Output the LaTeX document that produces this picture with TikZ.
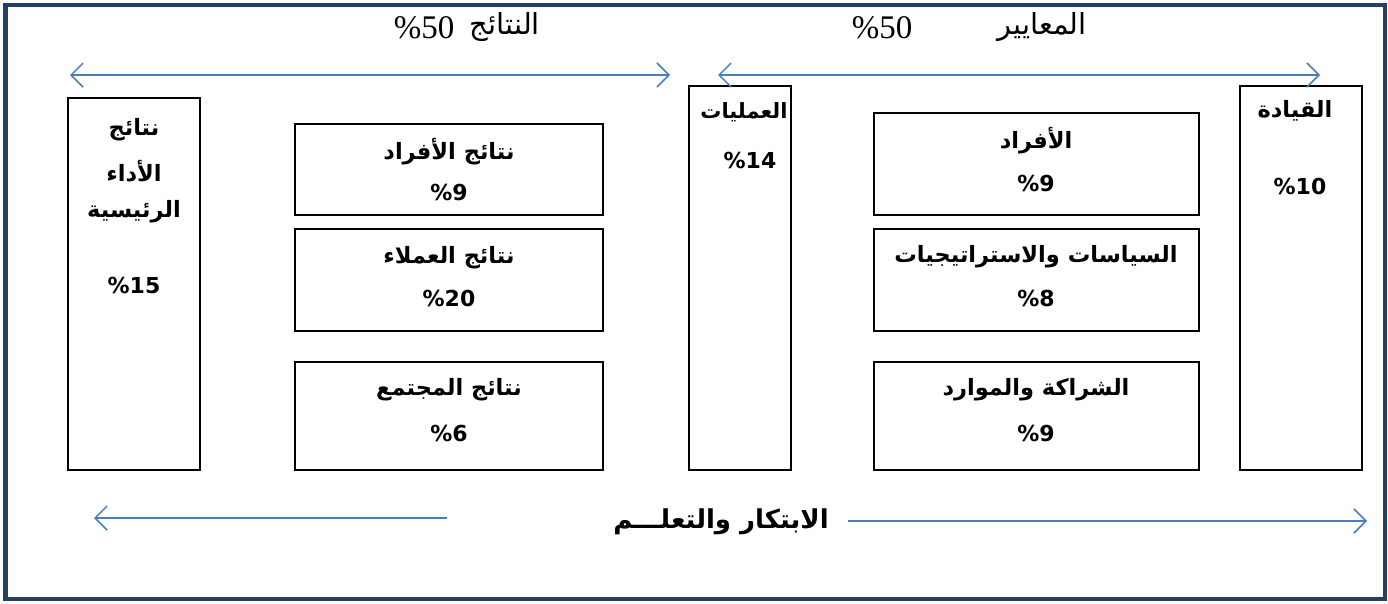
\documentclass[tikz,border=0pt]{standalone}
\usepackage{fontspec}
\usetikzlibrary{arrows.meta}
\TeXXeTstate=1
\newfontfamily\arabicfont[Script=Arabic]{DejaVu Sans}
\newfontfamily\latinbold{DejaVu Sans}
\setmainfont{Liberation Serif}
\newcommand\ARb[1]{{\arabicfont\bfseries\beginR #1\endR}}
\newcommand\ARn[1]{{\arabicfont\beginR #1\endR}}
\definecolor{framec}{HTML}{243F60}
\definecolor{arrowc}{HTML}{4A7EBB}
\tikzset{
  box/.style={draw=black, line width=1.2pt, inner sep=0pt},
  lbl/.style={inner sep=0pt, font=\arabicfont\bfseries\fontsize{22.5}{26}\selectfont, text=black},
  pct/.style={inner sep=0pt, font=\latinbold\bfseries\fontsize{22}{25}\selectfont, text=black},
  toplbl/.style={inner sep=0pt, font=\fontsize{33}{36}\selectfont, text=black},
  toparab/.style={inner sep=0pt, font=\arabicfont\fontsize{29}{33}\selectfont, text=black},
  conn/.style={draw=arrowc, line width=1.5pt},
  tip/.tip={Straight Barb[length=12pt,width=24pt,line width=1.5pt]}
}
\begin{document}
\begin{tikzpicture}[x=1pt,y=-1pt]
\useasboundingbox (0,0) rectangle (1388,603);
\draw[framec, line width=4.5pt] (5.5,5) rectangle (1385,599);
% boxes
\node[box, minimum width=132pt, minimum height=372pt] (kpi) at (134,284) {};
\node[box, minimum width=308pt, minimum height=91pt] (pres) at (449,169.5) {};
\node[box, minimum width=308pt, minimum height=102pt] (cres) at (449,280) {};
\node[box, minimum width=308pt, minimum height=108pt] (sres) at (449,416) {};
\node[box, minimum width=102pt, minimum height=384pt] (proc) at (740,278) {};
\node[box, minimum width=325pt, minimum height=102pt] (peop) at (1036.5,164) {};
\node[box, minimum width=325pt, minimum height=102pt] (pol) at (1036.5,280) {};
\node[box, minimum width=325pt, minimum height=108pt] (part) at (1036.5,416) {};
\node[box, minimum width=122pt, minimum height=384pt] (lead) at (1301,278) {};
% box texts
\node[lbl] (t1a) at (134,130) {\ARb{نتائج}};
\node[lbl] (t1b) at (134,171) {\ARb{الأداء}};
\node[lbl] (t1c) at (134,212) {\ARb{الرئيسية}};
\node[pct] (t1d) at (134,285) {\%15};
\node[lbl] (t2a) at (449,152) {\ARb{نتائج الأفراد}};
\node[pct] (t2b) at (449,192) {\%9};
\node[lbl] (t3a) at (449,258) {\ARb{نتائج العملاء}};
\node[pct] (t3b) at (449,298) {\%20};
\node[lbl] (t4a) at (449,390) {\ARb{نتائج المجتمع}};
\node[pct] (t4b) at (449,433) {\%6};
\node[lbl, font=\arabicfont\bfseries\fontsize{21}{25}\selectfont] (t5a) at (744,112) {\ARb{العمليات}};
\node[pct] (t5b) at (750,160) {\%14};
\node[lbl] (t6a) at (1036,141) {\ARb{الأفراد}};
\node[pct] (t6b) at (1036,183) {\%9};
\node[lbl] (t7a) at (1036,257) {\ARb{السياسات والاستراتيجيات}};
\node[pct] (t7b) at (1036,298) {\%8};
\node[lbl] (t8a) at (1036,390) {\ARb{الشراكة والموارد}};
\node[pct] (t8b) at (1036,433) {\%9};
\node[lbl] (t9a) at (1295,111) {\ARb{القيادة}};
\node[pct] (t9b) at (1300,186) {\%10};
% top labels
\node[toplbl] (r50) at (424,28) {\%50};
\node[toparab] (res) at (505,27) {\ARn{النتائج}};
\node[toplbl] (c50) at (882,28) {\%50};
\node[toparab] (crit) at (1042,27) {\ARn{المعايير}};
% bottom label
\node[lbl, font=\arabicfont\bfseries\fontsize{26}{30}\selectfont] (innov) at (721,522) {\ARb{الابتكار والتعلـــم}};
% arrows
\coordinate (a1) at (70,75);
\coordinate (a2) at (670,75);
\coordinate (a3) at (718,75);
\coordinate (a4) at (1320,75);
\coordinate (b1) at (447,518);
\coordinate (b2) at (94,518);
\coordinate (b3) at (848,521);
\coordinate (b4) at (1367,521);
\draw[conn, {tip}-{tip}] (a1) -- (a2);
\draw[conn, {tip}-{tip}] (a3) -- (a4);
\draw[conn, -{tip}] (b1) -- (b2);
\draw[conn, -{tip}] (b3) -- (b4);
\end{tikzpicture}
\end{document}
